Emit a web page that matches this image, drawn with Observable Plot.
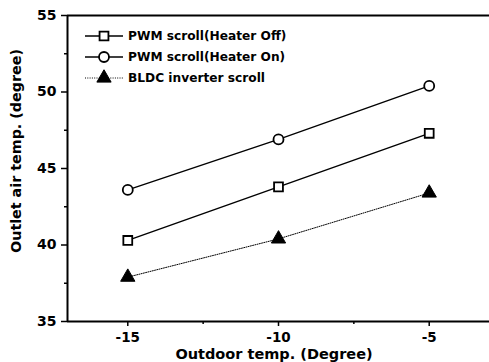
<!DOCTYPE html>
<html>
<head>
<meta charset="utf-8">
<script src="https://cdn.jsdelivr.net/npm/d3@7"></script>
<script src="https://cdn.jsdelivr.net/npm/@observablehq/plot@0.6"></script>
<style>
  html, body { margin: 0; padding: 0; background: #fff; }
  svg { display: block; }
</style>
</head>
<body>
<div id="chart"></div>
<script>
// Data
const outdoorTemps = [-15, -10, -5];
const heaterOff = [40.3, 43.8, 47.3];
const heaterOn = [43.6, 46.9, 50.4];
const bldc = [37.9, 40.4, 43.4];
const seriesNames = ["PWM scroll(Heater Off)", "PWM scroll(Heater On)", "BLDC inverter scroll"];
const xMajorTicks = [-15, -10, -5];
const xMinorTicks = [-12.5, -7.5];
const yMajorTicks = [35, 40, 45, 50, 55];
const yMinorTicks = [37.5, 42.5, 47.5, 52.5];
const xTitle = "Outdoor temp. (Degree)";
const yTitle = "Outlet air temp. (degree)";

const toRows = (vals, name) => outdoorTemps.map((x, i) => ({x, y: vals[i], series: name}));
const offRows = toRows(heaterOff, seriesNames[0]);
const onRows = toRows(heaterOn, seriesNames[1]);
const bldcRows = toRows(bldc, seriesNames[2]);

const FONT = "'DejaVu Sans', sans-serif";

const chart = Plot.plot({
  width: 489,
  height: 362,
  marginLeft: 67,
  marginRight: 0,
  marginTop: 15,
  marginBottom: 41,
  style: {fontFamily: FONT, fontWeight: "bold", color: "black", background: "white"},
  x: {domain: [-17, -3]},
  y: {domain: [35, 55]},
  marks: [
    Plot.axisX({ticks: xMajorTicks, tickSize: 5, tickPadding: 6, fontSize: 13.5, label: null, tickFormat: d => String(d), strokeWidth: 1.5}),
    Plot.axisX({ticks: xMinorTicks, tickSize: 3, tickFormat: () => "", label: null, strokeWidth: 1.5}),
    Plot.axisY({ticks: yMajorTicks, tickSize: 6, tickPadding: 5, fontSize: 14, label: null, tickFormat: d => String(d), strokeWidth: 1.5}),
    Plot.axisY({ticks: yMinorTicks, tickSize: 3, tickFormat: () => "", label: null, strokeWidth: 1.5}),
    Plot.ruleY([35, 55], {stroke: "black", strokeWidth: 2}),
    Plot.ruleX([-17], {stroke: "black", strokeWidth: 2}),
    Plot.line(offRows, {x: "x", y: "y", stroke: "black", strokeWidth: 1.4}),
    Plot.line(onRows, {x: "x", y: "y", stroke: "black", strokeWidth: 1.4}),
    Plot.line(bldcRows, {x: "x", y: "y", stroke: "black", strokeWidth: 1, strokeDasharray: "1,1.3"}),
    Plot.dot(offRows, {x: "x", y: "y", symbol: "square", r: 5, fill: "white", stroke: "black", strokeWidth: 1.8}),
    Plot.dot(onRows, {x: "x", y: "y", symbol: "circle", r: 5, fill: "white", stroke: "black", strokeWidth: 1.8}),
    Plot.dot(bldcRows, {x: "x", y: "y", symbol: "triangle", r: 5.3, fill: "black", stroke: "black", strokeWidth: 1})
  ]
});

document.getElementById("chart").appendChild(chart);

const svg = d3.select(chart);

// Axis titles
svg.append("text")
  .attr("x", 274).attr("y", 359)
  .attr("text-anchor", "middle")
  .attr("font-family", FONT).attr("font-weight", "bold").attr("font-size", 14.5)
  .attr("fill", "black")
  .text(xTitle);

svg.append("text")
  .attr("transform", `translate(21,151) rotate(-90)`)
  .attr("text-anchor", "middle")
  .attr("font-family", FONT).attr("font-weight", "bold").attr("font-size", 14.3)
  .attr("fill", "black")
  .text(yTitle);

// Legend
const legendRows = [36, 57, 78];
const legendSymbols = [d3.symbolSquare, d3.symbolCircle, d3.symbolTriangle];
const legend = svg.append("g").attr("text-anchor", "start");
seriesNames.forEach((name, i) => {
  const ly = legendRows[i];
  legend.append("line")
    .attr("x1", 85).attr("x2", 123).attr("y1", ly).attr("y2", ly)
    .attr("stroke", "black")
    .attr("stroke-width", i === 2 ? 1 : 1.4)
    .attr("stroke-dasharray", i === 2 ? "1,1.3" : null);
  const rr = i === 2 ? 5.3 : 5;
  legend.append("path")
    .attr("d", d3.symbol(legendSymbols[i], Math.PI * rr * rr)())
    .attr("transform", `translate(104,${ly})`)
    .attr("fill", i === 2 ? "black" : "white")
    .attr("stroke", "black")
    .attr("stroke-width", i === 2 ? 1 : 1.8);
  legend.append("text")
    .attr("x", 128).attr("y", ly).attr("dy", "0.36em")
    .attr("text-anchor", "start")
    .attr("font-family", FONT).attr("font-weight", "bold").attr("font-size", 12.2)
    .attr("fill", "black")
    .text(name);
});
</script>
</body>
</html>
